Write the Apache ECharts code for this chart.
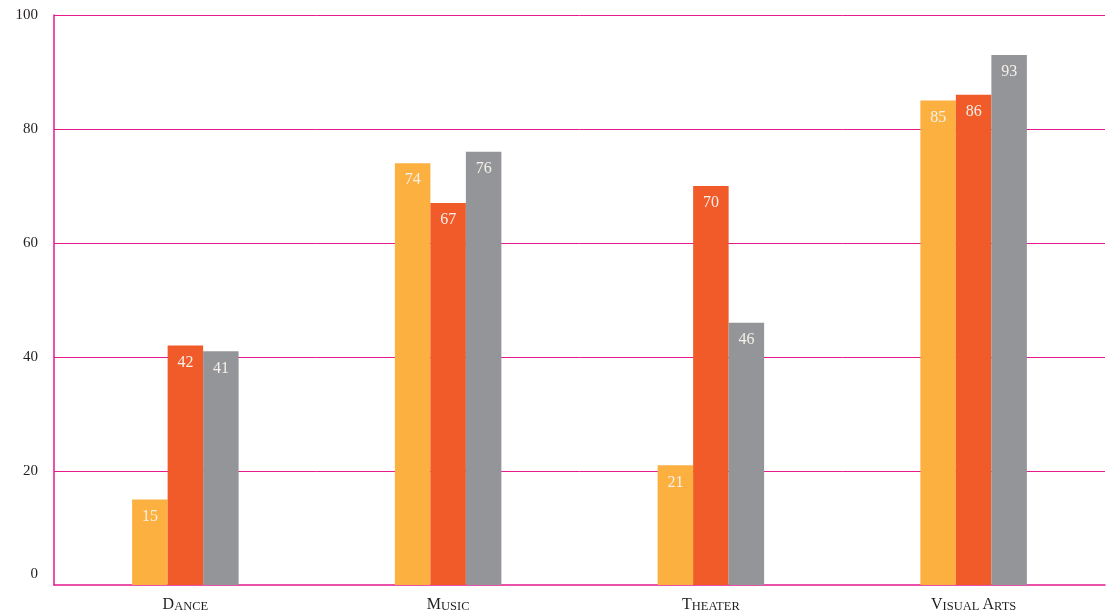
<!DOCTYPE html>
<html><head><meta charset="utf-8">
<script src="https://cdn.jsdelivr.net/npm/echarts@6/dist/echarts.min.js"></script>
<style>html,body{margin:0;padding:0;background:#fff;}#c{width:1110px;height:613px;}</style>
</head><body><div id="c"></div>
<script>
var categories = ['Dance', 'Music', 'Theater', 'Visual Arts'];
var series1 = [15, 74, 21, 85];
var series2 = [42, 67, 70, 86];
var series3 = [41, 76, 46, 93];
var yTicks = [0, 20, 40, 60, 80, 100];
var colors = ['#FBB040', '#F15A29', '#939598'];

function smallCaps(s) {
  return s.split(' ').map(function (w) {
    return '{a|' + w.charAt(0).toUpperCase() + '}{b|' + w.slice(1).toUpperCase() + '}';
  }).join('{b| }');
}

var font = '"Liberation Serif", "DejaVu Serif", serif';
var gridColor = '#e6198f';
var chart = echarts.init(document.getElementById('c'), null, {renderer: 'canvas'});
function mk(data, i) {
  var s = {
    type: 'bar', data: data, barWidth: 35.5, barGap: '0%', z: 3,
    itemStyle: {color: colors[i]},
    label: {show: true, position: 'insideTop', distance: 9, color: '#f6f0e8', fontFamily: font, fontSize: 16}
  };
  if (i === 0) {
    s.markLine = {
      silent: true, symbol: ['none', 'none'], z: 1,
      label: {show: false},
      lineStyle: {color: gridColor, width: 1, type: 'solid', opacity: 1},
      emphasis: {disabled: true},
      data: yTicks.slice(1).map(function (v) { return {yAxis: v}; })
    };
  }
  return s;
}
chart.setOption({
  animation: false,
  grid: {left: 54, right: 5, top: 15, bottom: 28, containLabel: false},
  xAxis: {
    type: 'category', data: categories,
    axisLine: {lineStyle: {color: gridColor, width: 1.5}},
    axisTick: {show: false},
    splitLine: {show: false},
    axisLabel: {
      margin: 12,
      formatter: function (v) { return smallCaps(v); },
      rich: {
        a: {fontFamily: font, fontSize: 16, color: '#231f20', verticalAlign: 'bottom'},
        b: {fontFamily: font, fontSize: 12.5, color: '#231f20', verticalAlign: 'bottom'}
      }
    }
  },
  yAxis: {
    type: 'value', min: yTicks[0], max: yTicks[yTicks.length - 1], interval: 20,
    axisLine: {show: true, lineStyle: {color: gridColor, width: 1.5}},
    axisTick: {show: false},
    splitLine: {show: false},
    axisLabel: {
      margin: 16, color: '#231f20', fontFamily: font, fontSize: 15,
      formatter: function (v) { return v === 0 ? '{z|0}' : String(v); },
      rich: {z: {fontFamily: font, fontSize: 15, color: '#231f20', padding: [0, 0, 22, 0]}}
    }
  },
  series: [mk(series1, 0), mk(series2, 1), mk(series3, 2)]
});
</script></body></html>
